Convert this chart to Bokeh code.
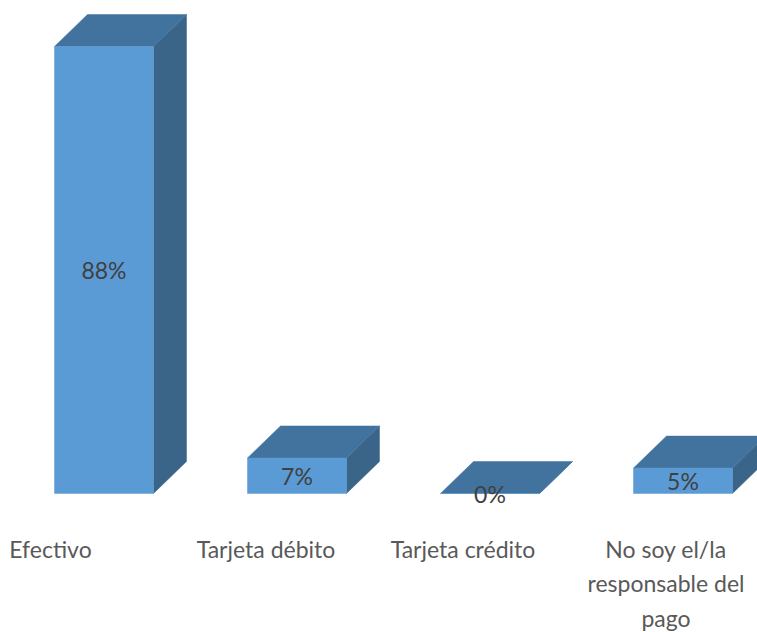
from bokeh.plotting import figure
from bokeh.models import Range1d
from bokeh.core.properties import value
from bokeh.embed import file_html
from bokeh.resources import INLINE

# ---- data ----
categories = ["Efectivo", "Tarjeta débito", "Tarjeta crédito", "No soy el/la responsable del pago"]
label_lines = [["Efectivo"], ["Tarjeta débito"], ["Tarjeta crédito"], ["No soy el/la", "responsable del", "pago"]]
values = [88, 7, 0, 5]
value_labels = ["88%", "7%", "0%", "5%"]

# ---- layout / style ----
W, H = 757, 632
PX_PER_CAT = 193.0
PX_PER_PCT = 5.08
X0_PX = 103.5     # px of first bar centre
Y0_PX = 493.0     # px (from top) of baseline
BAR_W = 99 / PX_PER_CAT
DX = 33 / PX_PER_CAT
DY = 32 / PX_PER_PCT
FONT = "Lato"
FRONT = "#5B9BD5"
TOP = "#42729E"
SIDE = "#3A6488"
label_dx_px = [-53.5, -31, -27, -17]
LINE1_PX = 548.0
LINE_STEP_PX = 34.5

p = figure(width=W, height=H, output_backend="svg", toolbar_location=None,
           x_range=Range1d(-X0_PX / PX_PER_CAT, (W - X0_PX) / PX_PER_CAT),
           y_range=Range1d(-(H - Y0_PX) / PX_PER_PCT, Y0_PX / PX_PER_PCT),
           min_border=0)
p.axis.visible = False
p.grid.visible = False
p.outline_line_color = None
p.background_fill_color = "white"
p.border_fill_color = "white"

xs = list(range(len(values)))
lefts = [x - BAR_W / 2 for x in xs]
rights = [x + BAR_W / 2 for x in xs]

top_xs, top_ys, side_xs, side_ys = [], [], [], []
for l, r, v in zip(lefts, rights, values):
    top_xs.append([l, r, r + DX, l + DX])
    top_ys.append([v, v, v + DY, v + DY])
    side_xs.append([r, r, r + DX, r + DX])
    side_ys.append([0, v, v + DY, DY])

p.patches(side_xs, side_ys, fill_color=SIDE, line_color=SIDE, line_width=0.5)
p.patches(top_xs, top_ys, fill_color=TOP, line_color=TOP, line_width=0.5)
p.quad(left=lefts, right=rights, bottom=0, top=values, fill_color=FRONT, line_color=FRONT, line_width=0.5)

# value labels
p.text(x=xs, y=[v / 2 for v in values], text=value_labels,
       text_font=value(FONT), text_font_size="23px", text_color="#404040",
       text_align="center", text_baseline="middle")

# category labels
lx, ly, lt = [], [], []
for i, lines in enumerate(label_lines):
    for j, t in enumerate(lines):
        lx.append(i + label_dx_px[i] / PX_PER_CAT)
        ly.append((Y0_PX - (LINE1_PX + j * LINE_STEP_PX)) / PX_PER_PCT)
        lt.append(t)
p.text(x=lx, y=ly, text=lt, text_font=value(FONT), text_font_size="23px",
       text_color="#595959", text_align="center", text_baseline="alphabetic")

open("out.html", "w").write(file_html(p, INLINE))
